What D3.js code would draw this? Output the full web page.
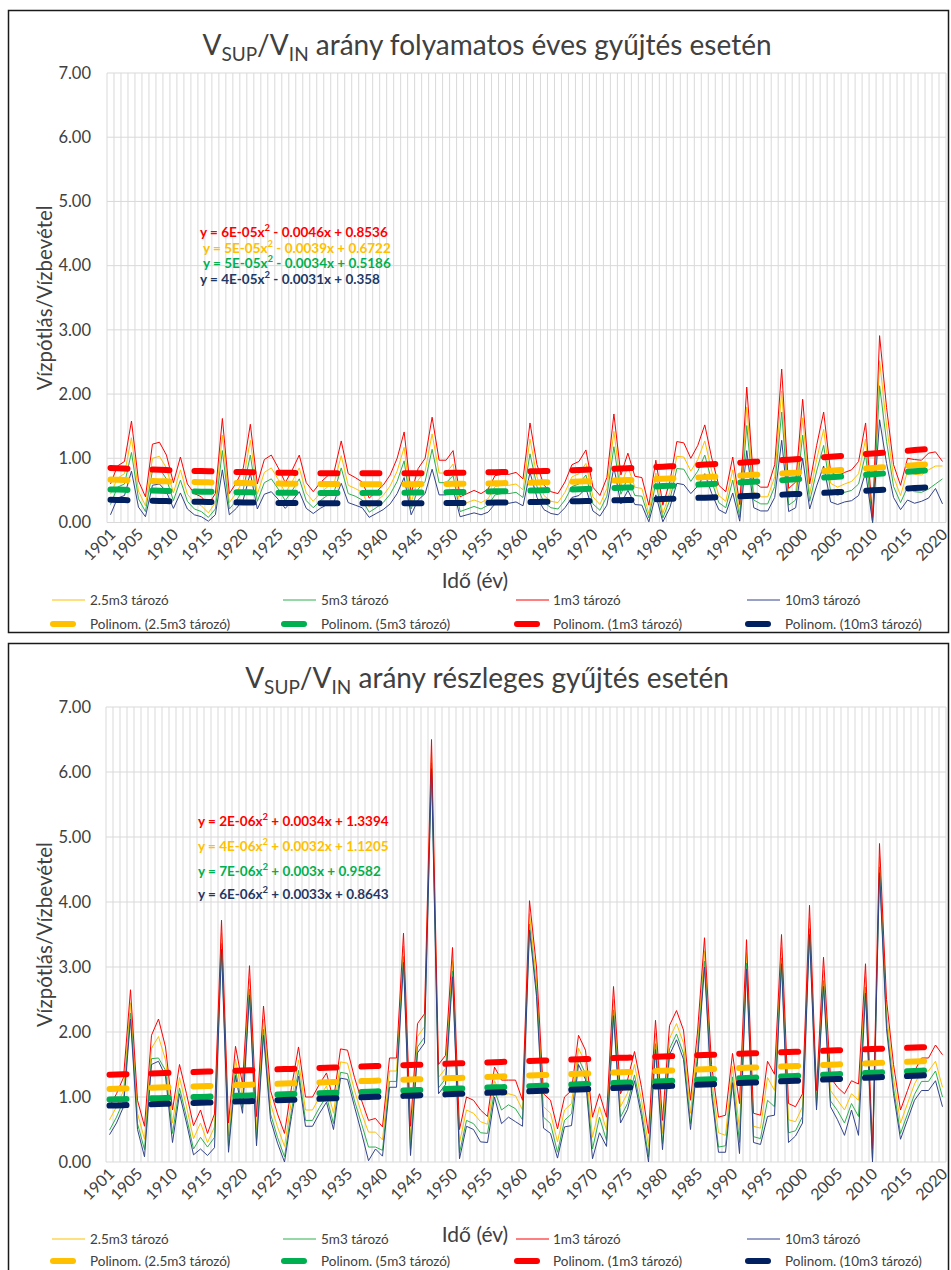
<html>
<head>
<meta charset="utf-8">
<script src="https://d3js.org/d3.v7.min.js"></script>
<style>
    body { margin: 0; background: #fff; }
    svg text { font-family: Lato, "Open Sans", sans-serif; }
</style>
</head>
<body>
<svg id="chart" width="951" height="1270"></svg>
<script>

const years = d3.range(1901, 2021)
const tickYears = [1901, 1905, 1910, 1915, 1920, 1925, 1930, 1935, 1940, 1945, 1950, 1955,
    1960, 1965, 1970, 1975, 1980, 1985, 1990, 1995, 2000, 2005, 2010, 2015, 2020]
const yTicks = [0, 1, 2, 3, 4, 5, 6, 7]

const seriesNames = ["2.5m3 tározó", "5m3 tározó", "1m3 tározó", "10m3 tározó"]
const lineColors = ["#FFC000", "#2EB04F", "#FF0000", "#33448C"]
const trendColors = ["#FFC000", "#00B050", "#FF0000", "#002060"]
const eqColors = ["#FF0000", "#FFC000", "#00B050", "#1F3864"]

// folyamatos éves gyűjtés
const top1m3 = [0.60,0.88,0.95,1.58,0.65,0.40,1.22,1.25,1.05,0.62,
    1.02,0.60,0.45,0.40,0.28,0.45,1.62,0.45,0.62,0.85,
    1.53,0.60,0.98,1.05,0.85,0.62,0.82,1.05,0.62,0.48,
    0.62,0.72,0.80,1.27,0.76,0.70,0.63,0.38,0.48,0.58,
    0.74,1.00,1.41,0.45,0.84,1.00,1.64,0.97,0.97,1.12,
    0.40,0.45,0.50,0.45,0.52,0.73,0.75,0.75,0.78,0.68,
    1.55,0.90,0.58,0.48,0.45,0.63,0.90,0.95,1.13,0.55,
    0.42,0.70,1.69,0.74,1.08,0.72,0.70,0.27,0.97,0.27,
    0.63,1.26,1.24,1.00,1.20,1.52,1.00,0.58,0.48,1.02,
    0.28,2.11,0.63,0.55,0.55,0.90,2.39,0.53,0.63,1.92,
    0.60,1.20,1.72,0.79,0.72,0.78,0.82,0.95,1.55,0.08,
    2.91,1.79,0.90,0.58,1.00,0.98,0.97,1.08,1.10,0.95]
const top25m3 = [0.44,0.69,0.76,1.32,0.49,0.26,1.00,1.03,0.85,0.46,
    0.82,0.44,0.31,0.26,0.15,0.31,1.36,0.31,0.46,0.67,
    1.28,0.44,0.78,0.85,0.67,0.46,0.64,0.85,0.46,0.33,
    0.46,0.55,0.62,1.04,0.58,0.53,0.47,0.24,0.33,0.42,
    0.57,0.80,1.17,0.31,0.66,0.80,1.38,0.77,0.77,0.91,
    0.26,0.31,0.35,0.31,0.37,0.56,0.58,0.58,0.60,0.51,
    1.30,0.71,0.42,0.33,0.31,0.47,0.71,0.76,0.92,0.40,
    0.28,0.53,1.42,0.57,0.87,0.55,0.53,0.14,0.77,0.14,
    0.47,1.03,1.02,0.80,0.98,1.27,0.80,0.42,0.33,0.82,
    0.15,1.80,0.47,0.40,0.40,0.71,2.05,0.38,0.47,1.63,
    0.44,0.98,1.45,0.61,0.55,0.60,0.64,0.76,1.30,0.00,
    2.52,1.51,0.71,0.42,0.80,0.75,0.74,0.82,0.88,0.88]
const top5m3 = [0.28,0.55,0.60,1.09,0.37,0.17,0.81,0.84,0.68,0.34,
    0.66,0.33,0.21,0.17,0.08,0.21,1.12,0.21,0.34,0.52,
    1.05,0.33,0.62,0.68,0.52,0.34,0.50,0.68,0.34,0.23,
    0.34,0.42,0.48,0.85,0.45,0.41,0.35,0.16,0.23,0.31,
    0.44,0.64,0.96,0.21,0.52,0.64,1.14,0.62,0.62,0.73,
    0.17,0.21,0.25,0.21,0.27,0.43,0.45,0.45,0.47,0.39,
    1.07,0.56,0.31,0.23,0.21,0.35,0.56,0.60,0.74,0.29,
    0.19,0.41,1.18,0.44,0.70,0.42,0.41,0.07,0.62,0.07,
    0.35,0.84,0.83,0.64,0.80,1.05,0.64,0.31,0.23,0.66,
    0.08,1.51,0.35,0.29,0.29,0.56,1.72,0.27,0.35,1.36,
    0.33,0.80,1.20,0.48,0.42,0.47,0.50,0.60,1.07,0.00,
    2.13,1.26,0.56,0.31,0.55,0.48,0.47,0.52,0.60,0.68]
const top10m3 = [0.12,0.38,0.42,0.80,0.24,0.09,0.58,0.60,0.48,0.22,
    0.46,0.21,0.12,0.09,0.02,0.12,0.82,0.12,0.22,0.36,
    0.77,0.21,0.44,0.48,0.36,0.22,0.34,0.48,0.22,0.14,
    0.22,0.28,0.33,0.61,0.31,0.27,0.23,0.08,0.14,0.20,
    0.29,0.45,0.70,0.12,0.35,0.45,0.83,0.43,0.43,0.52,
    0.09,0.12,0.15,0.12,0.16,0.29,0.30,0.30,0.32,0.26,
    0.78,0.39,0.20,0.14,0.12,0.23,0.39,0.42,0.53,0.18,
    0.10,0.27,0.86,0.29,0.50,0.28,0.27,0.01,0.43,0.01,
    0.23,0.61,0.59,0.45,0.57,0.76,0.45,0.20,0.14,0.46,
    0.02,1.12,0.23,0.18,0.18,0.39,1.28,0.17,0.23,1.00,
    0.21,0.57,0.88,0.32,0.28,0.32,0.34,0.42,0.78,0.00,
    1.60,0.92,0.39,0.20,0.35,0.30,0.33,0.38,0.53,0.29]

// részleges gyűjtés
const bot1m3 = [0.85,1.05,1.30,2.65,0.95,0.55,1.95,2.20,1.77,0.80,
    1.50,1.05,0.56,0.80,0.44,0.74,3.72,0.60,1.78,1.20,
    3.02,0.70,2.40,1.10,0.74,0.44,1.15,1.77,1.00,1.00,
    1.20,1.37,0.95,1.74,1.72,1.30,0.95,0.64,0.67,0.54,
    1.60,1.60,3.52,0.55,2.13,2.28,6.50,1.50,1.64,3.30,
    0.50,1.00,0.95,0.80,0.70,1.46,1.26,1.26,1.26,0.95,
    4.02,3.00,1.05,0.95,0.51,1.00,1.10,1.95,1.72,0.69,
    1.05,0.69,2.70,1.05,1.26,1.70,1.15,0.44,2.18,0.64,
    2.10,2.33,2.03,0.95,2.00,3.45,1.50,0.69,0.72,1.67,
    0.90,3.42,0.75,0.72,1.55,1.35,3.50,0.90,0.85,1.05,
    3.95,1.10,3.15,1.30,1.15,1.05,1.25,1.20,3.05,0.20,
    4.90,2.50,1.50,0.80,1.10,1.40,1.60,1.60,1.80,1.65]
const bot25m3 = [0.65,0.85,1.10,2.45,0.75,0.35,1.75,1.93,1.57,0.60,
    1.30,0.85,0.36,0.60,0.30,0.54,3.52,0.40,1.58,1.00,
    2.82,0.50,2.20,0.90,0.54,0.24,0.95,1.57,0.80,0.80,
    1.00,1.17,0.75,1.54,1.52,1.10,0.75,0.46,0.46,0.34,
    1.40,1.40,3.32,0.35,1.93,2.08,6.30,1.30,1.44,3.10,
    0.30,0.80,0.75,0.62,0.58,1.25,1.02,1.05,1.02,0.80,
    3.82,2.80,0.85,0.75,0.31,0.80,0.90,1.75,1.52,0.38,
    0.85,0.49,2.50,0.85,1.06,1.50,0.95,0.24,1.98,0.44,
    1.90,2.13,1.83,0.75,1.80,3.25,1.30,0.45,0.41,1.47,
    0.50,3.22,0.55,0.52,1.30,1.10,3.30,0.65,0.62,0.85,
    3.75,0.95,2.95,1.10,0.95,0.80,1.05,0.95,2.85,0.05,
    4.70,2.30,1.30,0.60,0.90,1.20,1.40,1.40,1.55,1.15]
const bot5m3 = [0.49,0.69,0.94,2.29,0.59,0.19,1.59,1.60,1.41,0.44,
    1.14,0.69,0.20,0.38,0.23,0.38,3.36,0.24,1.42,0.84,
    2.66,0.34,2.04,0.74,0.38,0.08,0.79,1.41,0.64,0.64,
    0.84,1.01,0.59,1.38,1.36,0.94,0.59,0.23,0.23,0.18,
    1.24,1.24,3.16,0.19,1.77,1.92,6.14,1.14,1.28,2.94,
    0.14,0.64,0.59,0.45,0.44,1.10,0.80,0.88,0.82,0.65,
    3.66,2.64,0.69,0.59,0.15,0.64,0.74,1.59,1.36,0.20,
    0.69,0.33,2.34,0.69,0.90,1.34,0.79,0.08,1.82,0.28,
    1.74,1.97,1.67,0.59,1.64,3.09,1.14,0.23,0.25,1.31,
    0.30,3.06,0.39,0.36,0.95,0.85,3.14,0.45,0.48,0.70,
    3.59,0.85,2.79,0.94,0.79,0.60,0.90,0.70,2.69,0.02,
    4.54,2.14,1.14,0.44,0.74,1.04,1.24,1.24,1.40,1.00]
const bot10m3 = [0.42,0.60,0.85,2.20,0.50,0.08,1.50,1.55,1.32,0.30,
    1.05,0.60,0.11,0.20,0.10,0.22,3.27,0.15,1.33,0.75,
    2.57,0.25,1.95,0.65,0.29,0.00,0.70,1.32,0.55,0.55,
    0.75,0.92,0.50,1.29,1.27,0.85,0.45,0.02,0.20,0.09,
    1.15,1.15,3.07,0.10,1.68,1.83,6.05,1.05,1.19,2.85,
    0.05,0.55,0.50,0.31,0.30,1.00,0.59,0.69,0.62,0.55,
    3.57,2.55,0.52,0.44,0.06,0.54,0.56,1.50,1.27,0.05,
    0.45,0.24,2.25,0.60,0.81,1.25,0.70,0.00,1.73,0.19,
    1.65,1.88,1.58,0.50,1.55,3.00,1.05,0.15,0.15,1.22,
    0.13,2.97,0.30,0.27,0.70,0.72,3.05,0.30,0.40,0.60,
    3.50,0.80,2.70,0.85,0.65,0.41,0.80,0.41,2.60,0.00,
    4.45,2.05,1.05,0.35,0.65,0.95,1.10,1.10,1.25,0.85]

// trendline coefficients (a, b, c) as printed on the chart, order: 2.5m3, 5m3, 1m3, 10m3
const topCoef = [[5e-5, -0.0039, 0.6722], [5e-5, -0.0034, 0.5186], [6e-5, -0.0046, 0.8536], [4e-5, -0.0031, 0.358]]
const botCoef = [[4e-6, 0.0032, 1.1205], [7e-6, 0.003, 0.9582], [2e-6, 0.0034, 1.3394], [6e-6, 0.0033, 0.8643]]

// equation labels: order red, orange, green, navy
const topEq = [["y = 6E-05x", " - 0.0046x + 0.8536"], ["y = 5E-05x", " - 0.0039x + 0.6722"],
    ["y = 5E-05x", " - 0.0034x + 0.5186"], ["y = 4E-05x", " - 0.0031x + 0.358"]]
const botEq = [["y = 2E-06x", " + 0.0034x + 1.3394"], ["y = 4E-06x", " + 0.0032x + 1.1205"],
    ["y = 7E-06x", " + 0.003x + 0.9582"], ["y = 6E-06x", " + 0.0033x + 0.8643"]]

const svg = d3.select("#chart")

function drawChart(cfg) {
    let g = svg.append("g")
    let plotL = cfg.plotL, plotR = 946

    g.append("rect")
        .attr("x", 8.5).attr("y", cfg.boxTop)
        .attr("width", 940).attr("height", cfg.boxH)
        .attr("fill", "none").attr("stroke", "#1a1a1a").attr("stroke-width", 1.5)

    let x = d3.scaleBand().domain(years).range([plotL, plotR])
    let y = d3.scaleLinear().domain([0, 7]).range([cfg.plotBottom, cfg.plotTop])
    let bw = x.bandwidth()
    let cx = yr => x(yr) + bw / 2

    // grid
    g.append("g").selectAll("line")
        .data(years.concat([2021]))
        .enter().append("line")
        .attr("x1", d => d == 2021 ? plotR : x(d)).attr("x2", d => d == 2021 ? plotR : x(d))
        .attr("y1", y(7)).attr("y2", y(0))
        .attr("stroke", "#d9d9d9").attr("stroke-width", 1)

    g.append("g").selectAll("line")
        .data(yTicks)
        .enter().append("line")
        .attr("x1", plotL).attr("x2", plotR)
        .attr("y1", d => y(d)).attr("y2", d => y(d))
        .attr("stroke", "#d9d9d9").attr("stroke-width", 1)

    // axes
    let yAxis = g.append("g")
        .attr("transform", "translate(94,0)")
        .call(d3.axisLeft(y).tickValues(yTicks).tickSize(0).tickFormat(d3.format(".2f")))
    yAxis.select(".domain").remove()
    yAxis.selectAll("text").attr("font-size", 16.5).attr("fill", "#404040")
        .attr("font-family", "Lato, sans-serif")

    let xAxis = g.append("g")
        .attr("transform", `translate(0,${cfg.plotBottom + 4})`)
        .call(d3.axisBottom(x).tickValues(tickYears).tickSize(0))
    xAxis.select(".domain").remove()
    xAxis.selectAll("text")
        .attr("font-size", 16).attr("fill", "#404040")
        .attr("font-family", "Lato, sans-serif")
        .attr("text-anchor", "end")
        .attr("transform", "translate(2,5) rotate(-45)")
        .attr("dy", "0.35em").attr("y", 0)

    // title
    let title = g.append("text")
        .attr("x", 487).attr("y", cfg.titleY)
        .attr("text-anchor", "middle")
        .attr("font-size", 28).attr("fill", "#404040")
    title.append("tspan").text("V")
    title.append("tspan").text("SUP").attr("font-size", 19).attr("dy", 6)
    title.append("tspan").text("/V").attr("dy", -6)
    title.append("tspan").text("IN").attr("font-size", 19).attr("dy", 6)
    title.append("tspan").text(" " + cfg.title).attr("dy", -6)

    // axis titles
    g.append("text")
        .attr("transform", `translate(52,${(cfg.plotTop + cfg.plotBottom) / 2}) rotate(-90)`)
        .attr("text-anchor", "middle")
        .attr("font-size", 20.5).attr("fill", "#404040")
        .text("Vízpótlás/Vízbevétel")

    g.append("text")
        .attr("x", 475).attr("y", cfg.xTitleY)
        .attr("text-anchor", "middle")
        .attr("font-size", 21).attr("fill", "#404040")
        .text("Idő (év)")

    // series
    let line = d3.line().x((d, i) => cx(years[i])).y(d => y(d))
    cfg.series.forEach((s, k) => {
        g.append("path")
            .attr("d", line(s))
            .attr("fill", "none")
            .attr("stroke", lineColors[k])
            .attr("stroke-width", 1)
    })

    // polynomial trendlines
    cfg.coef.forEach((c, k) => {
        let vals = years.map((yr, i) => c[0] * (i + 1) * (i + 1) + c[1] * (i + 1) + c[2])
        g.append("path")
            .attr("d", line(vals))
            .attr("fill", "none")
            .attr("stroke", trendColors[k])
            .attr("stroke-width", 6)
            .attr("stroke-dasharray", "17 25")
            .attr("stroke-linecap", "round")
    })

    // equations
    cfg.eq.forEach((e, k) => {
        let t = g.append("text")
            .attr("x", cfg.eqX[k]).attr("y", cfg.eqY[k])
            .attr("font-size", 13.5).attr("font-weight", "bold")
            .attr("fill", eqColors[k])
        t.append("tspan").text(e[0])
        t.append("tspan").text("2").attr("font-size", 9.5).attr("dy", -6)
        t.append("tspan").text(e[1]).attr("dy", 6)
    })

    // legend
    let legX = [52, 283, 516, 747]
    let legTextX = [90, 321, 553, 785]
    let legend = g.append("g")
    seriesNames.forEach((name, k) => {
        legend.append("line")
            .attr("x1", legX[k]).attr("x2", legX[k] + 33)
            .attr("y1", cfg.legY).attr("y2", cfg.legY)
            .attr("stroke", lineColors[k]).attr("stroke-width", 1)
        legend.append("text")
            .attr("x", legTextX[k]).attr("y", cfg.legY + 5)
            .attr("font-size", 13.5).attr("fill", "#404040")
            .text(name)
        legend.append("line")
            .attr("x1", legX[k] + 1).attr("x2", legX[k] + 21)
            .attr("y1", cfg.legY + cfg.legGap).attr("y2", cfg.legY + cfg.legGap)
            .attr("stroke", trendColors[k]).attr("stroke-width", 6)
            .attr("stroke-linecap", "round")
        legend.append("text")
            .attr("x", legTextX[k]).attr("y", cfg.legY + cfg.legGap + 5)
            .attr("font-size", 13.5).attr("fill", "#404040")
            .text("Polinom. (" + name + ")")
    })
}

drawChart({
    boxTop: 10.5, boxH: 622, plotL: 107,
    titleY: 55, title: "arány folyamatos éves gyűjtés esetén",
    plotTop: 73, plotBottom: 522.5, xTitleY: 588, legY: 600, legGap: 24,
    series: [top25m3, top5m3, top1m3, top10m3],
    coef: topCoef, eq: topEq,
    eqX: [200, 203, 203, 200], eqY: [237, 252.5, 268, 283.5]
})

drawChart({
    boxTop: 643.5, boxH: 640, plotL: 106,
    titleY: 688, title: "arány részleges gyűjtés esetén",
    plotTop: 707, plotBottom: 1162, xTitleY: 1242, legY: 1239, legGap: 22,
    series: [bot25m3, bot5m3, bot1m3, bot10m3],
    coef: botCoef, eq: botEq,
    eqX: [198, 198, 198, 198], eqY: [826, 851, 876, 899]
})

</script>
</body>
</html>
